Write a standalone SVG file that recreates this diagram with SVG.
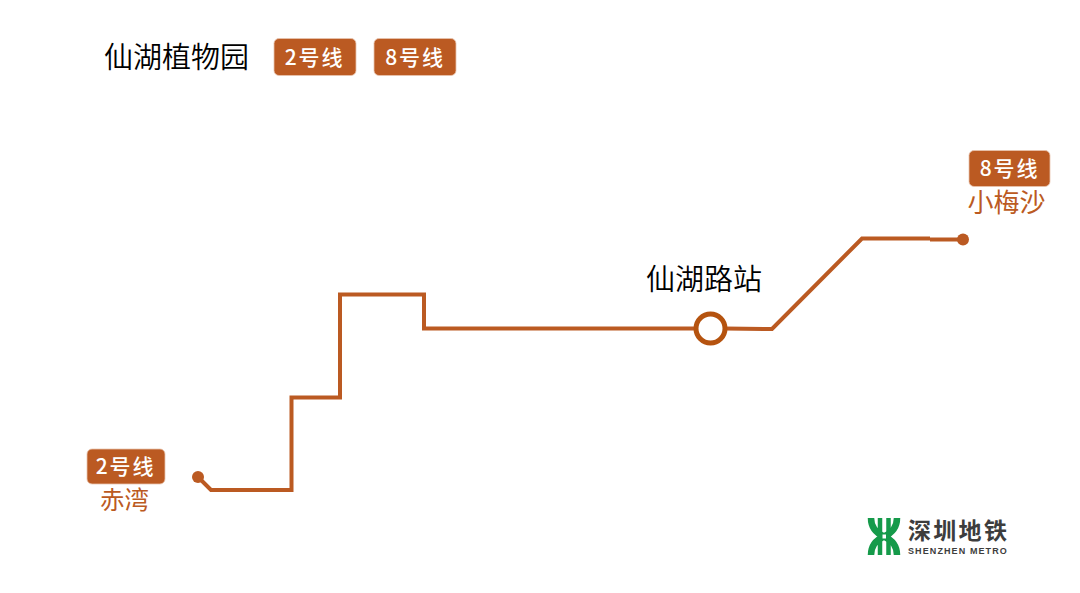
<svg xmlns="http://www.w3.org/2000/svg" width="1080" height="593" viewBox="0 0 1080 593">
<style>
text{font-family:"Noto Sans CJK SC","Noto Sans",sans-serif}
.badge{fill:#bb5a22;stroke:#e8c4ae;stroke-width:.8}
.bt{fill:#fff;font-size:21px;font-weight:500;text-anchor:middle;letter-spacing:1.800px}
.line{fill:none;stroke:#bb5a22;stroke-width:4}
.term{fill:#bb5a22}
.name{fill:#bb5a22;font-size:24.500px;text-anchor:middle}
.black{fill:#000;font-size:29px;text-anchor:middle;font-weight:350}
.logo{fill:none;stroke:#159a4a}
</style>
<g id="title"><text class="black" x="176.500" y="68">仙湖植物园</text></g>
<g id="legend-line2"><rect class="badge" x="274" y="38.500" width="82" height="37" rx="5"/><text class="bt" x="314.500" y="65">2号线</text></g>
<g id="legend-line8"><rect class="badge" x="374" y="38.500" width="82" height="37" rx="5"/><text class="bt" x="415" y="65">8号线</text></g>
<g id="connectors">
<path class="line" d="M198 477L211 490H291.500V397.500H340V294.500H424V328.500H697"/>
<path class="line" d="M725 328.500L772 329L862 238.500H930"/>
<path class="line" d="M930 239.500H963"/>
</g>
<g id="station-chiwan"><circle class="term" cx="198" cy="477" r="6"/><rect class="badge" x="87" y="449" width="78" height="35" rx="5"/><text class="bt" x="125.500" y="474">2号线</text><text class="name" x="124.500" y="509">赤湾</text></g>
<g id="station-xiaomeisha"><circle class="term" cx="963" cy="239.500" r="6"/><rect class="badge" x="969" y="150.500" width="81" height="36" rx="5"/><text class="bt" x="1009.500" y="176">8号线</text><text class="name" x="1006.500" y="212" style="font-size:26px">小梅沙</text></g>
<g id="station-xianhulu"><text class="black" x="704" y="290">仙湖路站</text><circle cx="710.500" cy="328.500" r="14.500" fill="#fff" stroke="#b5530f" stroke-width="5"/></g>
<g id="logo">
<path class="logo" stroke-width="6.500" d="M871 518C871 528 876 533 884 536.500C892 533 897 528 897 518M871 555C871 546 876 540 884 536.500C892 540 897 546 897 555"/>
<path class="logo" stroke-width="4.500" d="M880 518V555M888.500 518V555"/>
<rect x="882.500" y="534.500" width="3.500" height="4" fill="#fff"/>
<text x="908" y="539" style="font-size:23px;font-weight:700;letter-spacing:2.300px" fill="#3d3d3d">深圳地铁</text>
<text x="908" y="553.500" style="font-family:'Liberation Sans',sans-serif;font-size:9px;font-weight:700;letter-spacing:1.100px" fill="#3d3d3d">SHENZHEN METRO</text>
</g>
</svg>
